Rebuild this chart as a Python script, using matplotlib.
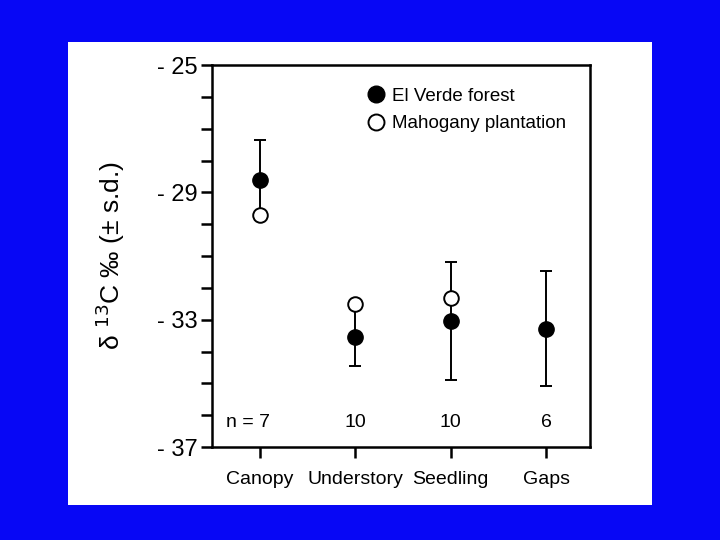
import matplotlib
matplotlib.use("Agg")
import matplotlib.pyplot as plt
from matplotlib.patches import Rectangle
from matplotlib.lines import Line2D

categories = ["Canopy", "Understory", "Seedling", "Gaps"]
n_labels = ["n = 7", "10", "10", "6"]
el_verde = [-28.62, -33.56, -33.03, -33.28]
el_verde_sd = [1.26, 0.91, 1.85, 1.80]
mahogany = [-29.72, -32.52, -32.33, None]

y_ticks = [-25, -29, -33, -37]
y_ticklabels = ["- 25", "- 29", "- 33", "- 37"]


def main():
    plt.rcParams["font.family"] = ["Liberation Sans", "DejaVu Sans"]
    fig = plt.figure(figsize=(7.2, 5.4), dpi=100)
    fig.patch.set_facecolor("#0707f5")
    fig.add_artist(
        Rectangle((68 / 720, 35 / 540), 584 / 720, 463 / 540,
                  transform=fig.transFigure, facecolor="white",
                  edgecolor="none", zorder=-5)
    )

    ax = fig.add_axes([212 / 720, 93 / 540, 378 / 720, 382 / 540])
    ax.set_facecolor("white")
    x = list(range(1, len(categories) + 1))

    ax.errorbar(x, el_verde, yerr=el_verde_sd, fmt="none", ecolor="black",
                elinewidth=1.4, capsize=4, capthick=1.4, zorder=2)
    ax.plot(x, el_verde, "o", color="black", markersize=11, zorder=3)
    mx = [xi for xi, v in zip(x, mahogany) if v is not None]
    my = [v for v in mahogany if v is not None]
    ax.plot(mx, my, "o", markerfacecolor="white", markeredgecolor="black",
            markeredgewidth=1.4, markersize=10.5, zorder=4)

    for xi, lab in zip(x, n_labels):
        xpos = xi
        if lab.startswith("n"):
            xpos = xi - 0.13
        ax.text(xpos, -36.23, lab, ha="center", va="center", fontsize=14)

    ax.set_xlim(0.495, 4.46)
    ax.set_ylim(-37, -25)
    ax.set_xticks(x)
    ax.set_xticklabels(categories, fontsize=14)
    ax.set_yticks(range(-37, -24))
    ax.set_yticklabels([y_ticklabels[y_ticks.index(v)] if v in y_ticks else ""
                        for v in range(-37, -24)], fontsize=17)
    ax.tick_params(axis="both", direction="out", length=8, width=1.8,
                   colors="black", pad=2)
    ax.tick_params(axis="x", pad=9)
    for s in ax.spines.values():
        s.set_linewidth(1.8)

    ax.set_ylabel("δ $^{13}$C ‰ (± s.d.)", fontsize=19, labelpad=22)

    handles = [
        Line2D([], [], marker="o", linestyle="none", color="black",
               markersize=12),
        Line2D([], [], marker="o", linestyle="none", markerfacecolor="white",
               markeredgecolor="black", markeredgewidth=1.4, markersize=11.5),
    ]
    ax.legend(handles, ["El Verde forest", "Mahogany plantation"],
              loc="upper left", bbox_to_anchor=(0.39, 0.96), frameon=False,
              fontsize=13.5, handletextpad=0.35, labelspacing=0.55,
              borderaxespad=0, handlelength=1.0)

    fig.savefig("out.png", dpi=100, facecolor=fig.get_facecolor())
    plt.close(fig)


if __name__ == "__main__":
    main()
